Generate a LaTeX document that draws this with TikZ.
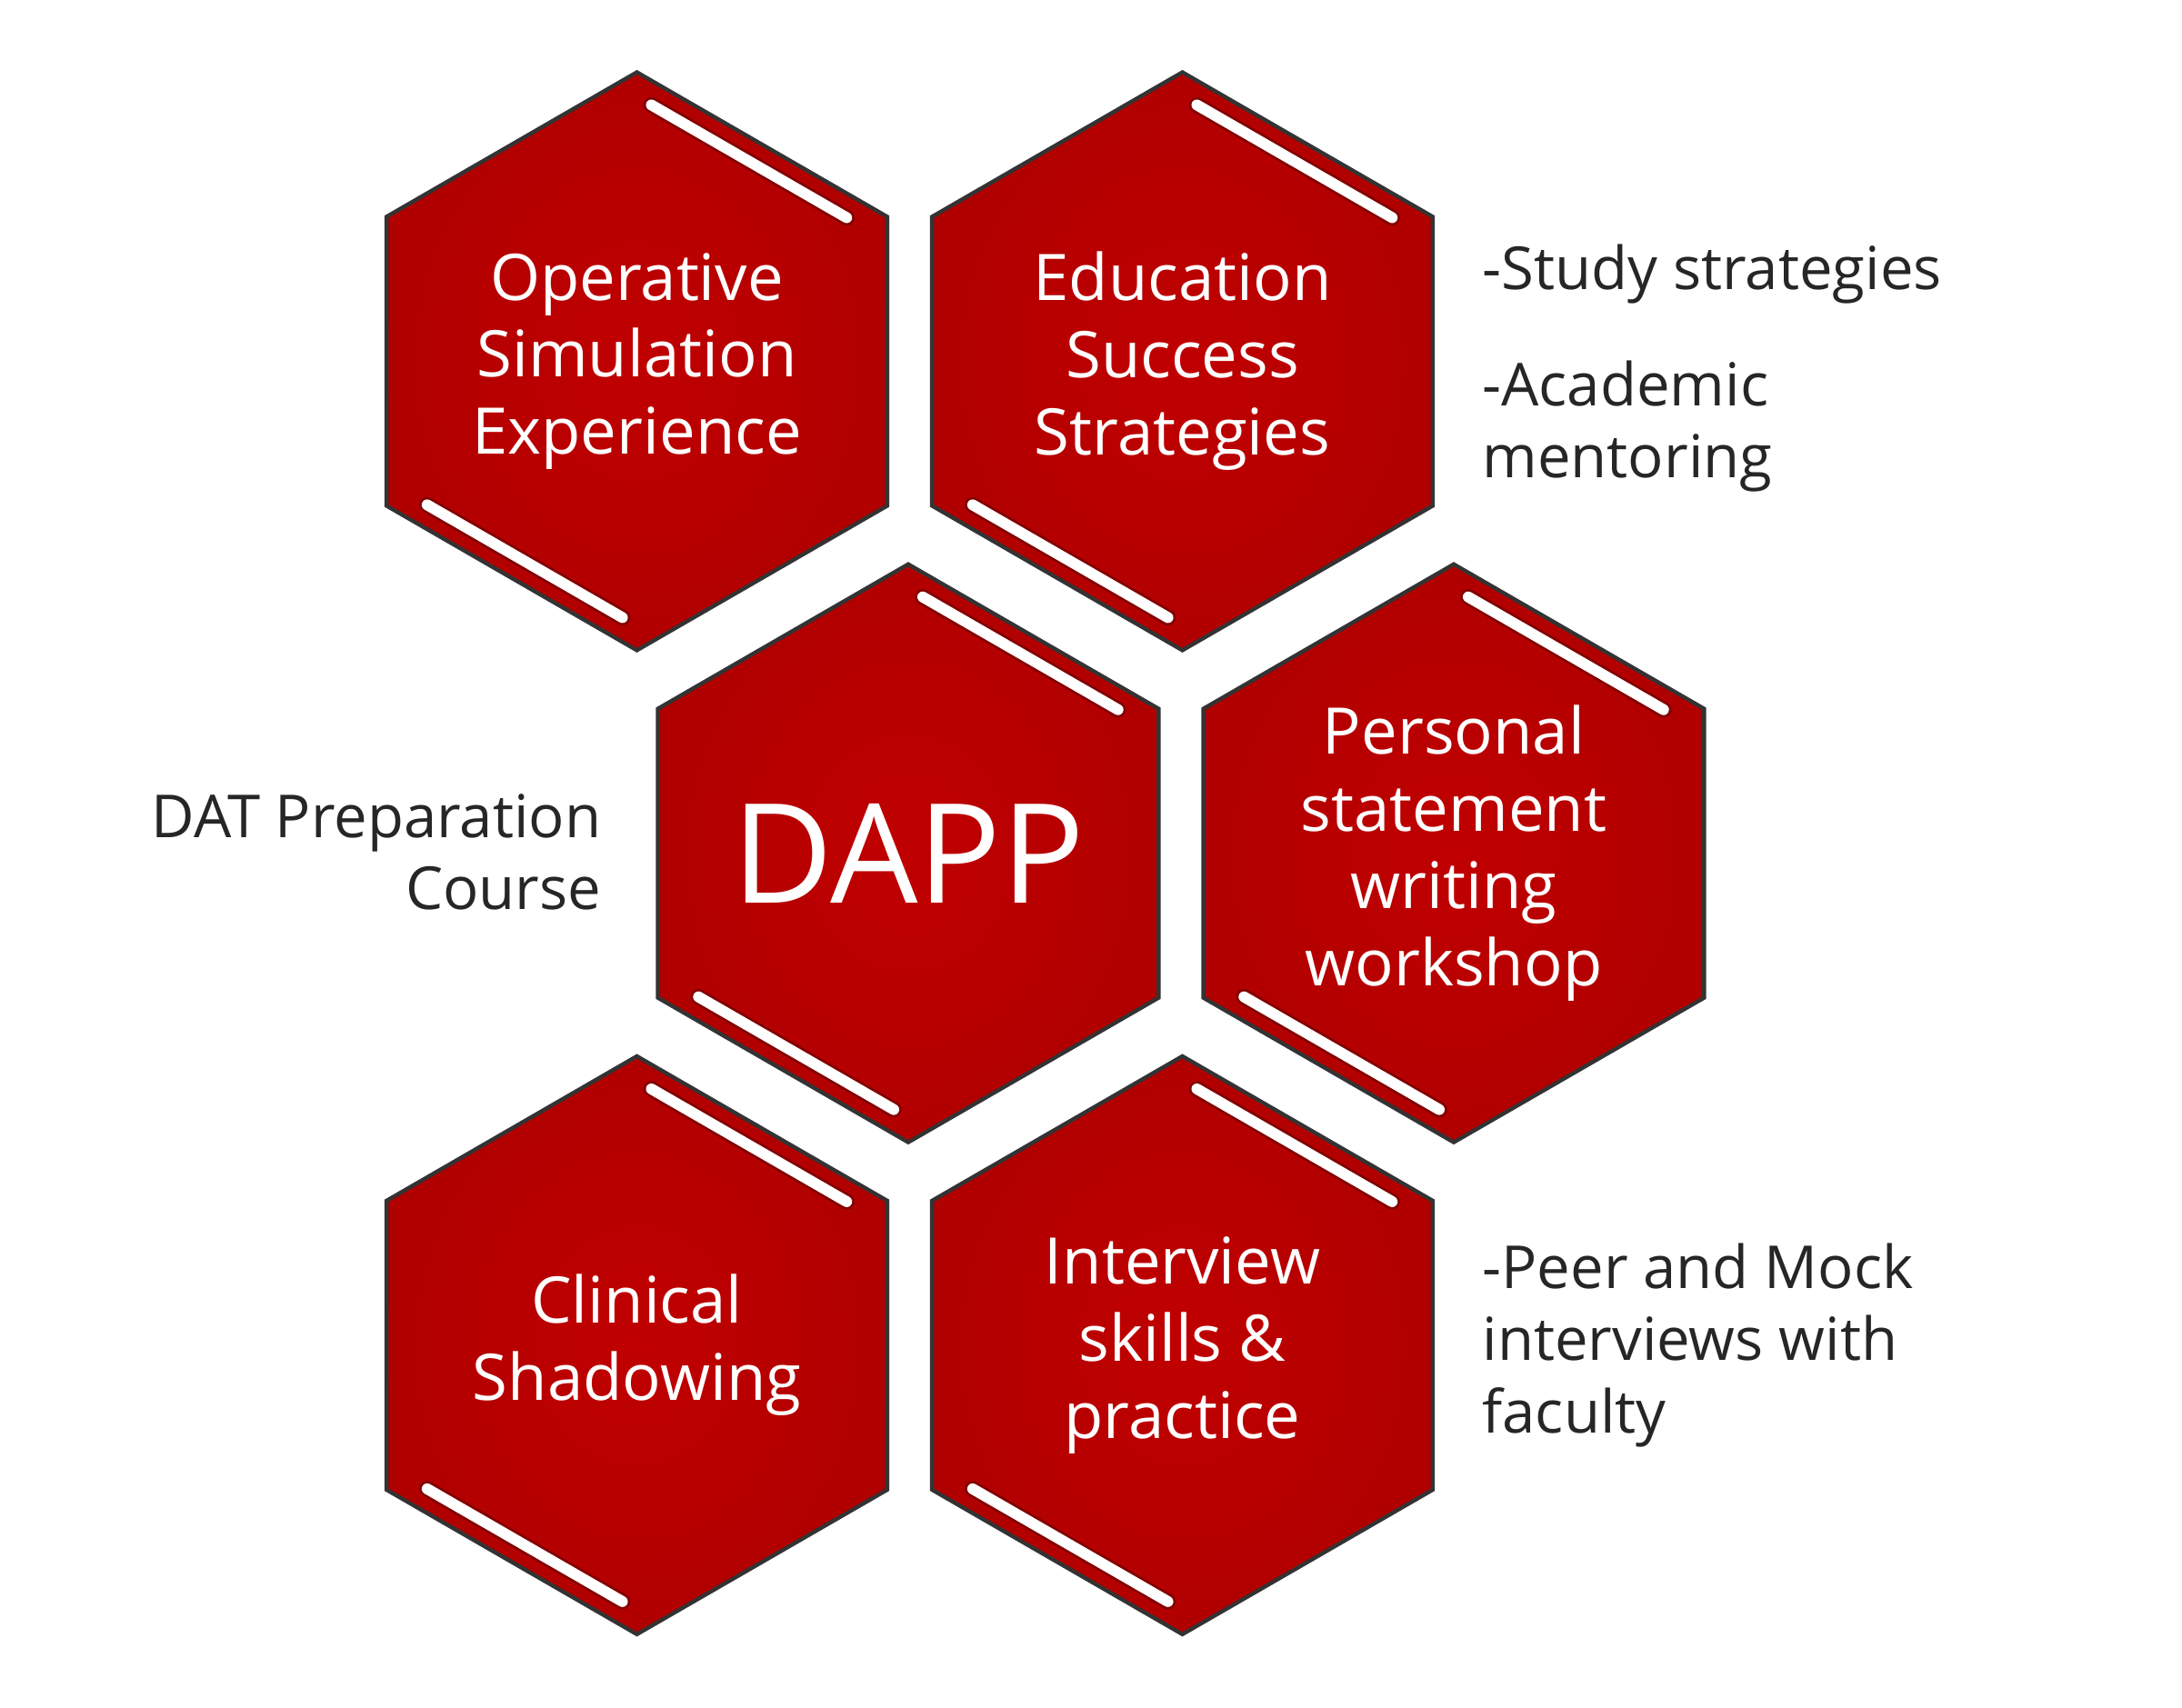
\documentclass[tikz,border=0pt]{standalone}
\usepackage{fontspec}
\setmainfont{Open Sans}
\usetikzlibrary{shapes.geometric,calc}
\definecolor{hexred}{RGB}{192,0,0}
\definecolor{hexdark}{RGB}{130,0,0}
\tikzset{
  hexcell/.style={regular polygon, regular polygon sides=6, shape border rotate=30,
    minimum size=4.11cm, inner sep=0pt, draw=black!80, line width=0.8pt,
    inner color=hexred, outer color=hexred!75!hexdark},
  hextext/.style={text=white, align=center, font=\fontsize{13}{15.6}\selectfont},
  sidetext/.style={text=black!85, font=\fontsize{12}{14.6}\selectfont},
  shine/.style={draw=hexdark, double=white, double distance=2.2pt, line width=0.5pt, line cap=round}
}
\newcommand{\hexbox}[3]{%
  \node[hexcell] (#1) at #2 {};
  \coordinate (#1-t) at ($(#1.center)+(90:2.055cm)$);
  \coordinate (#1-r) at ($(#1.center)+(30:2.055cm)$);
  \coordinate (#1-l) at ($(#1.center)+(210:2.055cm)$);
  \coordinate (#1-b) at ($(#1.center)+(270:2.055cm)$);
  \draw[shine] ([shift={(240:0.15cm)}]$(#1-t)!0.1!(#1-r)$) -- ([shift={(240:0.15cm)}]$(#1-t)!0.88!(#1-r)$);
  \draw[shine] ([shift={(60:0.15cm)}]$(#1-l)!0.12!(#1-b)$) -- ([shift={(60:0.15cm)}]$(#1-l)!0.9!(#1-b)$);
  \node[hextext] at (#1.center) {#3};
}
\begin{document}
\begin{tikzpicture}[x=0.01cm,y=-0.01cm]
\useasboundingbox (0,0) rectangle (1552,1215);

% hexagon cells
\hexbox{operative}{(453,257)}{Operative\\Simulation\\Experience}
\hexbox{education}{(841,257)}{Education\\Success\\Strategies}
\hexbox{dapp}{(646,607)}{\fontsize{28}{32}\selectfont DAPP}
\hexbox{personal}{(1034,607)}{Personal\\statement\\writing\\workshop}
\hexbox{clinical}{(453,957)}{Clinical\\Shadowing}
\hexbox{interview}{(841,957)}{Interview\\skills \&\\practice}

% side notes
\node[sidetext, anchor=west] (study) at (1042,195) {-Study strategies};
\node[sidetext, anchor=north west, align=left] (mentor) at (1042,244) {-Academic\\mentoring};
\node[sidetext, anchor=east, align=right] (dat) at (440,606) {DAT Preparation\\Course};
\node[sidetext, anchor=west, align=left] (peer) at (1042,957) {-Peer and Mock\\interviews with\\faculty};
\end{tikzpicture}
\end{document}
